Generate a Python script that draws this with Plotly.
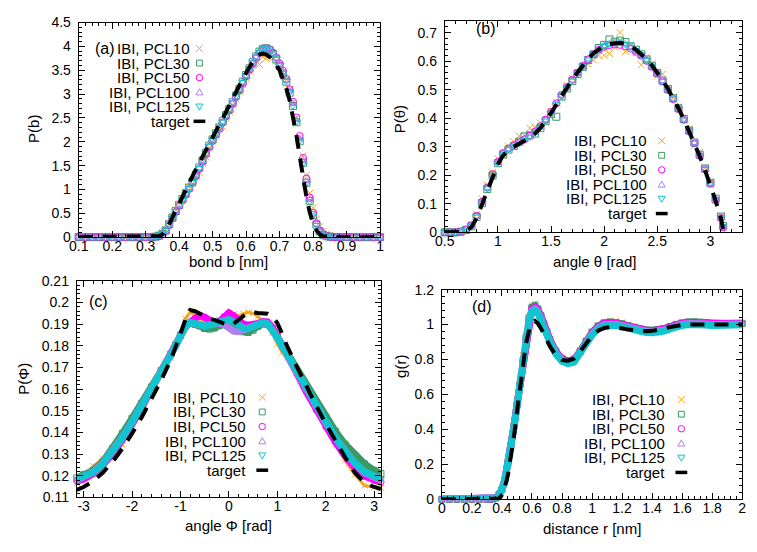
import plotly.graph_objects as go

W, H = 757, 552
FONT = "Liberation Sans, Arial, sans-serif"
FS = 15
TFS = 14

NAMES = ["IBI, PCL10", "IBI, PCL30", "IBI, PCL50", "IBI, PCL100", "IBI, PCL125"]
COLORS = ["#f5a623", "#3a9a66", "#ff00ff", "#b080ec", "#10c4d0"]
SYMBOLS = ["x-thin-open", "square-open", "circle-open", "triangle-up-open", "triangle-down-open"]

# ---------------- panel (a): bond distribution ----------------
XA = [0.10, 0.12, 0.14, 0.16, 0.18, 0.20, 0.22, 0.24, 0.26, 0.28, 0.30, 0.32,
      0.33, 0.34, 0.35, 0.36, 0.37, 0.38, 0.39, 0.40, 0.41, 0.42, 0.43, 0.44, 0.45, 0.46, 0.47, 0.48, 0.49, 0.50,
      0.51, 0.52, 0.53, 0.54, 0.55, 0.56, 0.57, 0.58, 0.59, 0.60, 0.61, 0.62, 0.63, 0.64, 0.65, 0.66, 0.67, 0.68, 0.69, 0.70,
      0.71, 0.72, 0.73, 0.74, 0.75, 0.76, 0.77, 0.78, 0.79, 0.80, 0.81, 0.82, 0.83, 0.84, 0.85, 0.86, 0.87,
      0.88, 0.90, 0.92, 0.94, 0.96, 0.98, 1.00]
A_PCL10 = [0, 0, 0, 0, 0, 0, 0, 0, 0, 0, 0, 0,
           0.01, 0.04, 0.08, 0.16, 0.28, 0.43, 0.57, 0.66, 0.80, 0.94, 1.05, 1.12, 1.27, 1.35, 1.57, 1.68, 1.88, 2.01,
           2.12, 2.31, 2.32, 2.50, 2.63, 2.78, 2.90, 3.06, 3.20, 3.33, 3.48, 3.60, 3.72, 3.62, 3.78, 3.75, 3.82, 3.76, 3.70, 3.58,
           3.45, 3.30, 3.10, 2.82, 2.50, 2.10, 1.70, 1.30, 0.92, 0.62, 0.38, 0.22, 0.12, 0.07, 0.04, 0.02, 0.01,
           0, 0, 0, 0, 0, 0, 0]
A_PCL30 = [0, 0, 0, 0, 0, 0, 0, 0, 0, 0, 0, 0,
           0.01, 0.03, 0.07, 0.14, 0.27, 0.41, 0.55, 0.68, 0.80, 0.92, 1.04, 1.17, 1.31, 1.46, 1.61, 1.77, 1.92, 2.05,
           2.18, 2.30, 2.43, 2.56, 2.69, 2.83, 2.97, 3.11, 3.26, 3.40, 3.54, 3.67, 3.79, 3.89, 3.95, 3.96, 3.92, 3.84, 3.73, 3.59,
           3.43, 3.26, 3.03, 2.75, 2.41, 2.01, 1.56, 1.14, 0.76, 0.46, 0.26, 0.12, 0.05, 0.02, 0.01, 0.00, 0.00,
           0, 0, 0, 0, 0, 0, 0]
A_PCL50 = [0, 0, 0, 0, 0, 0, 0, 0, 0, 0, 0, 0,
           0.01, 0.02, 0.06, 0.13, 0.25, 0.39, 0.53, 0.66, 0.77, 0.89, 1.01, 1.14, 1.28, 1.43, 1.58, 1.74, 1.89, 2.02,
           2.15, 2.27, 2.40, 2.53, 2.66, 2.80, 2.94, 3.08, 3.23, 3.37, 3.51, 3.64, 3.76, 3.86, 3.93, 3.96, 3.94, 3.87, 3.77, 3.64,
           3.49, 3.32, 3.10, 2.84, 2.51, 2.12, 1.66, 1.23, 0.83, 0.51, 0.29, 0.14, 0.06, 0.03, 0.01, 0.00, 0.00,
           0, 0, 0, 0, 0, 0, 0]
A_PCL100 = [0, 0, 0, 0, 0, 0, 0, 0, 0, 0, 0, 0,
            0.01, 0.03, 0.08, 0.15, 0.27, 0.41, 0.55, 0.67, 0.79, 0.91, 1.03, 1.16, 1.30, 1.45, 1.60, 1.75, 1.90, 2.03,
            2.16, 2.28, 2.41, 2.54, 2.67, 2.81, 2.95, 3.09, 3.24, 3.38, 3.52, 3.65, 3.77, 3.87, 3.94, 3.96, 3.92, 3.85, 3.75, 3.62,
            3.46, 3.29, 3.07, 2.80, 2.46, 2.06, 1.60, 1.18, 0.79, 0.48, 0.27, 0.13, 0.06, 0.02, 0.01, 0.00, 0.00,
            0, 0, 0, 0, 0, 0, 0]
A_PCL125 = [0, 0, 0, 0, 0, 0, 0, 0, 0, 0, 0, 0,
            0.01, 0.03, 0.07, 0.14, 0.26, 0.40, 0.54, 0.67, 0.78, 0.90, 1.02, 1.15, 1.29, 1.44, 1.59, 1.76, 1.91, 2.04,
            2.17, 2.29, 2.42, 2.55, 2.68, 2.82, 2.96, 3.10, 3.25, 3.39, 3.53, 3.66, 3.78, 3.88, 3.95, 3.97, 3.93, 3.85, 3.74, 3.60,
            3.44, 3.27, 3.04, 2.76, 2.42, 2.02, 1.55, 1.13, 0.75, 0.45, 0.25, 0.12, 0.05, 0.02, 0.01, 0.00, 0.00,
            0, 0, 0, 0, 0, 0, 0]
A_TARGET = [0, 0, 0, 0, 0, 0, 0, 0, 0, 0, 0, 0,
            0.005, 0.02, 0.06, 0.14, 0.27, 0.42, 0.57, 0.72, 0.86, 1.00, 1.14, 1.28, 1.42, 1.56, 1.70, 1.84, 1.97, 2.10,
            2.23, 2.36, 2.49, 2.62, 2.76, 2.90, 3.04, 3.18, 3.32, 3.45, 3.57, 3.68, 3.77, 3.83, 3.85, 3.83, 3.78, 3.71, 3.62, 3.50,
            3.33, 3.12, 2.87, 2.55, 2.15, 1.70, 1.25, 0.85, 0.52, 0.29, 0.14, 0.06, 0.02, 0.01, 0.00, 0.00, 0.00,
            0, 0, 0, 0, 0, 0, 0]

# ---------------- panel (b): angle distribution ----------------
XB = [0.50, 0.55, 0.60, 0.65, 0.70, 0.75, 0.80, 0.85, 0.90, 0.95,
      1.00, 1.05, 1.10, 1.15, 1.20, 1.25, 1.30, 1.35, 1.40, 1.45,
      1.50, 1.55, 1.60, 1.65, 1.70, 1.75, 1.80, 1.85, 1.90, 1.95,
      2.00, 2.05, 2.10, 2.15, 2.20, 2.25, 2.30, 2.35, 2.40, 2.45,
      2.50, 2.55, 2.60, 2.65, 2.70, 2.75, 2.80, 2.85, 2.90, 2.95,
      3.00, 3.05, 3.10, 3.12]
B_PCL10 = [0.0, 0.0, 0.0, 0.003, 0.010, 0.028, 0.063, 0.118, 0.165, 0.210,
           0.258, 0.268, 0.300, 0.318, 0.337, 0.340, 0.365, 0.370, 0.383, 0.385,
           0.425, 0.455, 0.470, 0.515, 0.540, 0.560, 0.580, 0.590, 0.604, 0.620,
           0.620, 0.627, 0.650, 0.700, 0.633, 0.655, 0.630, 0.587, 0.612, 0.590,
           0.548, 0.555, 0.505, 0.472, 0.440, 0.400, 0.360, 0.305, 0.280, 0.225,
           0.176, 0.112, 0.058, 0.020]
B_PCL30 = [0.0, 0.0, 0.0, 0.002, 0.008, 0.021, 0.054, 0.102, 0.152, 0.199,
           0.242, 0.273, 0.290, 0.302, 0.318, 0.336, 0.340, 0.346, 0.365, 0.391,
           0.414, 0.405, 0.476, 0.504, 0.530, 0.555, 0.580, 0.604, 0.624, 0.646,
           0.657, 0.676, 0.668, 0.672, 0.667, 0.652, 0.640, 0.624, 0.606, 0.584,
           0.559, 0.532, 0.502, 0.470, 0.435, 0.397, 0.357, 0.315, 0.272, 0.224,
           0.174, 0.118, 0.055, 0.022]
B_PCL50 = [0.0, 0.0, 0.0, 0.003, 0.010, 0.025, 0.058, 0.107, 0.157, 0.204,
           0.247, 0.278, 0.294, 0.305, 0.315, 0.326, 0.338, 0.353, 0.372, 0.395,
           0.422, 0.452, 0.482, 0.509, 0.535, 0.560, 0.584, 0.606, 0.625, 0.640,
           0.650, 0.656, 0.658, 0.657, 0.652, 0.644, 0.633, 0.619, 0.601, 0.580,
           0.556, 0.529, 0.499, 0.467, 0.432, 0.394, 0.354, 0.312, 0.268, 0.220,
           0.170, 0.113, 0.050, 0.017]
B_PCL100 = [0.0, 0.0, 0.0, 0.002, 0.009, 0.024, 0.057, 0.106, 0.156, 0.203,
            0.246, 0.276, 0.292, 0.303, 0.313, 0.324, 0.336, 0.351, 0.370, 0.393,
            0.420, 0.450, 0.480, 0.507, 0.533, 0.558, 0.583, 0.607, 0.627, 0.643,
            0.654, 0.661, 0.665, 0.665, 0.660, 0.651, 0.639, 0.623, 0.605, 0.583,
            0.558, 0.531, 0.501, 0.469, 0.434, 0.396, 0.356, 0.314, 0.270, 0.222,
            0.171, 0.114, 0.051, 0.018]
B_PCL125 = [0.0, 0.0, 0.0, 0.002, 0.008, 0.022, 0.055, 0.103, 0.153, 0.200,
            0.243, 0.274, 0.291, 0.301, 0.311, 0.322, 0.334, 0.349, 0.368, 0.391,
            0.418, 0.448, 0.478, 0.505, 0.531, 0.556, 0.581, 0.605, 0.625, 0.641,
            0.652, 0.659, 0.663, 0.664, 0.659, 0.650, 0.638, 0.622, 0.604, 0.582,
            0.557, 0.530, 0.500, 0.468, 0.433, 0.395, 0.355, 0.313, 0.270, 0.222,
            0.172, 0.115, 0.052, 0.020]
B_TARGET = [0.0, 0.0, 0.0, 0.001, 0.005, 0.018, 0.050, 0.098, 0.150, 0.197,
            0.240, 0.270, 0.288, 0.300, 0.310, 0.320, 0.332, 0.347, 0.366, 0.390,
            0.417, 0.447, 0.478, 0.508, 0.535, 0.560, 0.585, 0.608, 0.628, 0.643,
            0.654, 0.660, 0.663, 0.664, 0.660, 0.652, 0.640, 0.625, 0.607, 0.585,
            0.560, 0.533, 0.503, 0.470, 0.435, 0.396, 0.355, 0.312, 0.267, 0.218,
            0.167, 0.110, 0.048, 0.012]

# ---------------- panel (c): dihedral distribution ----------------
XC = [-3.14, -3.0, -2.8, -2.6, -2.4, -2.2, -2.0, -1.8, -1.6, -1.4,
      -1.2, -1.1, -1.0, -0.9, -0.8, -0.7, -0.6, -0.5, -0.4, -0.3,
      -0.2, -0.1, 0.0, 0.1, 0.2, 0.3, 0.4, 0.5, 0.6, 0.7,
      0.8, 0.9, 1.0, 1.1, 1.2, 1.4, 1.6, 1.8, 2.0, 2.2,
      2.4, 2.6, 2.8, 3.0, 3.14]
C_PCL10 = [0.1165, 0.1195, 0.1245, 0.1280, 0.1295, 0.1345, 0.1425, 0.1490, 0.1590, 0.1685,
           0.1745, 0.1795, 0.1855, 0.1925, 0.1955, 0.1940, 0.1925, 0.1915, 0.1910, 0.1912,
           0.1920, 0.1935, 0.1948, 0.1945, 0.1938, 0.1948, 0.1955, 0.1950, 0.1935, 0.1915,
           0.1905, 0.1860, 0.1810, 0.1770, 0.1745, 0.1675, 0.1595, 0.1505, 0.1425, 0.1345,
           0.1270, 0.1205, 0.1155, 0.1148, 0.1145]
C_PCL30 = [0.1190, 0.1205, 0.1225, 0.1265, 0.1325, 0.1395, 0.1465, 0.1535, 0.1610, 0.1685,
           0.1762, 0.1805, 0.1848, 0.1890, 0.1905, 0.1900, 0.1892, 0.1880, 0.1877, 0.1882,
           0.1893, 0.1905, 0.1910, 0.1895, 0.1878, 0.1865, 0.1862, 0.1872, 0.1890, 0.1902,
           0.1900, 0.1878, 0.1842, 0.1802, 0.1765, 0.1688, 0.1612, 0.1540, 0.1470, 0.1405,
           0.1345, 0.1295, 0.1255, 0.1225, 0.1210]
C_PCL50 = [0.1175, 0.1185, 0.1210, 0.1250, 0.1302, 0.1365, 0.1438, 0.1515, 0.1595, 0.1675,
           0.1755, 0.1800, 0.1845, 0.1888, 0.1910, 0.1925, 0.1940, 0.1932, 0.1915, 0.1905,
           0.1912, 0.1935, 0.1952, 0.1938, 0.1915, 0.1900, 0.1895, 0.1897, 0.1903, 0.1912,
           0.1910, 0.1885, 0.1845, 0.1805, 0.1762, 0.1675, 0.1588, 0.1505, 0.1428, 0.1355,
           0.1292, 0.1238, 0.1198, 0.1178, 0.1170]
C_PCL100 = [0.1180, 0.1195, 0.1218, 0.1258, 0.1312, 0.1378, 0.1448, 0.1522, 0.1600, 0.1680,
            0.1760, 0.1802, 0.1846, 0.1888, 0.1906, 0.1902, 0.1895, 0.1892, 0.1898, 0.1905,
            0.1905, 0.1898, 0.1885, 0.1868, 0.1865, 0.1872, 0.1882, 0.1892, 0.1900, 0.1906,
            0.1902, 0.1876, 0.1838, 0.1800, 0.1760, 0.1678, 0.1598, 0.1520, 0.1445, 0.1375,
            0.1312, 0.1258, 0.1215, 0.1190, 0.1180]
C_PCL125 = [0.1185, 0.1195, 0.1215, 0.1255, 0.1310, 0.1375, 0.1445, 0.1520, 0.1598, 0.1678,
            0.1758, 0.1800, 0.1845, 0.1888, 0.1908, 0.1905, 0.1898, 0.1890, 0.1893, 0.1902,
            0.1910, 0.1918, 0.1922, 0.1910, 0.1893, 0.1882, 0.1880, 0.1888, 0.1900, 0.1908,
            0.1902, 0.1875, 0.1838, 0.1800, 0.1760, 0.1680, 0.1600, 0.1520, 0.1445, 0.1375,
            0.1312, 0.1258, 0.1218, 0.1195, 0.1185]
C_TARGET = [0.1135, 0.1148, 0.1175, 0.1215, 0.1265, 0.1325, 0.1395, 0.1470, 0.1555, 0.1640,
            0.1735, 0.1790, 0.1855, 0.1920, 0.1965, 0.1960, 0.1948, 0.1935, 0.1925, 0.1920,
            0.1910, 0.1900, 0.1895, 0.1902, 0.1920, 0.1938, 0.1950, 0.1955, 0.1952, 0.1950,
            0.1948, 0.1935, 0.1905, 0.1855, 0.1800, 0.1705, 0.1610, 0.1525, 0.1440, 0.1358,
            0.1285, 0.1215, 0.1168, 0.1148, 0.1138]
C_TICKS = [-3, -2, -1, 0, 1, 2, 3]
C_TICKTEXT = ["-3", "-2", "-1", "0", "1", "2", "3"]

# ---------------- panel (d): radial distribution ----------------
XD = [0.00, 0.05, 0.10, 0.15, 0.20, 0.25, 0.30,
      0.32, 0.34, 0.36, 0.38, 0.40, 0.42, 0.44, 0.46, 0.48, 0.50,
      0.52, 0.54, 0.56, 0.58, 0.60, 0.62, 0.64, 0.66, 0.68, 0.70,
      0.72, 0.76, 0.80, 0.84, 0.88, 0.92, 0.96, 1.00, 1.04, 1.08,
      1.12, 1.16, 1.20, 1.24, 1.28, 1.32, 1.36, 1.40, 1.44, 1.48,
      1.52, 1.56, 1.60, 1.64, 1.68, 1.72, 1.76, 1.80, 1.84, 1.88,
      1.92, 1.96, 2.00]
D_PCL10 = [0, 0, 0, 0, 0, 0, 0,
           0.0, 0.003, 0.010, 0.030, 0.065, 0.125, 0.215, 0.325, 0.445, 0.575,
           0.700, 0.825, 0.940, 1.045, 1.110, 1.120, 1.095, 1.055, 1.005, 0.960,
           0.918, 0.852, 0.810, 0.800, 0.810, 0.855, 0.910, 0.960, 0.995, 1.015,
           1.022, 1.020, 1.012, 1.002, 0.990, 0.980, 0.972, 0.970, 0.972, 0.980,
           0.992, 1.003, 1.012, 1.017, 1.018, 1.016, 1.012, 1.008, 1.006, 1.005,
           1.005, 1.005, 1.005]
D_PCL30 = [0, 0, 0, 0, 0, 0, 0,
           0.0, 0.002, 0.008, 0.025, 0.056, 0.113, 0.204, 0.306, 0.418, 0.540,
           0.662, 0.792, 0.925, 1.038, 1.098, 1.108, 1.088, 1.050, 1.003, 0.957,
           0.914, 0.846, 0.805, 0.792, 0.800, 0.846, 0.904, 0.956, 0.991, 1.009,
           1.014, 1.011, 1.004, 0.993, 0.983, 0.974, 0.969, 0.967, 0.969, 0.977,
           0.989, 1.001, 1.009, 1.014, 1.016, 1.014, 1.011, 1.008, 1.007, 1.006,
           1.006, 1.007, 1.007]
D_PCL50 = [0, 0, 0, 0, 0, 0, 0,
           0.0, 0.003, 0.009, 0.027, 0.058, 0.115, 0.205, 0.306, 0.418, 0.540,
           0.660, 0.790, 0.920, 1.033, 1.090, 1.098, 1.080, 1.045, 0.998, 0.952,
           0.910, 0.842, 0.802, 0.788, 0.796, 0.842, 0.900, 0.952, 0.988, 1.006,
           1.011, 1.008, 1.001, 0.991, 0.981, 0.972, 0.967, 0.965, 0.967, 0.975,
           0.987, 0.999, 1.007, 1.012, 1.014, 1.012, 1.009, 1.006, 1.005, 1.004,
           1.005, 1.006, 1.006]
D_PCL100 = [0, 0, 0, 0, 0, 0, 0,
            0.0, 0.002, 0.008, 0.026, 0.056, 0.112, 0.202, 0.303, 0.414, 0.535,
            0.655, 0.785, 0.915, 1.027, 1.080, 1.090, 1.073, 1.038, 0.992, 0.946,
            0.904, 0.836, 0.796, 0.782, 0.790, 0.835, 0.893, 0.946, 0.981, 0.999,
            1.004, 1.001, 0.994, 0.984, 0.974, 0.966, 0.961, 0.959, 0.961, 0.969,
            0.981, 0.993, 1.001, 1.006, 1.008, 1.006, 1.003, 1.000, 0.999, 0.999,
            1.000, 1.002, 1.003]
D_PCL125 = [0, 0, 0, 0, 0, 0, 0,
            0.0, 0.002, 0.008, 0.025, 0.055, 0.110, 0.200, 0.300, 0.410, 0.530,
            0.650, 0.780, 0.910, 1.020, 1.072, 1.082, 1.065, 1.030, 0.985, 0.940,
            0.898, 0.830, 0.790, 0.777, 0.785, 0.830, 0.888, 0.940, 0.975, 0.993,
            0.998, 0.995, 0.988, 0.978, 0.968, 0.960, 0.955, 0.953, 0.955, 0.963,
            0.975, 0.987, 0.995, 1.000, 1.002, 1.000, 0.998, 0.995, 0.994, 0.994,
            0.995, 0.997, 0.999]
D_TARGET = [0, 0, 0, 0, 0, 0, 0,
            0.0, 0.0, 0.0, 0.004, 0.025, 0.070, 0.140, 0.235, 0.360, 0.500,
            0.645, 0.780, 0.890, 0.965, 1.010, 1.020, 1.005, 0.978, 0.945, 0.910,
            0.875, 0.822, 0.797, 0.793, 0.805, 0.845, 0.895, 0.937, 0.965, 0.980,
            0.985, 0.983, 0.978, 0.972, 0.967, 0.963, 0.962, 0.964, 0.969, 0.977,
            0.986, 0.993, 0.998, 1.000, 1.000, 0.999, 0.998, 0.997, 0.997, 0.998,
            0.999, 1.000, 1.000]

PANELS = [
    dict(x=XA, ys=[A_PCL10, A_PCL30, A_PCL50, A_PCL100, A_PCL125], target=A_TARGET, band=False),
    dict(x=XB, ys=[B_PCL10, B_PCL30, B_PCL50, B_PCL100, B_PCL125], target=B_TARGET, band=False),
    dict(x=XC, ys=[C_PCL10, C_PCL30, C_PCL50, C_PCL100, C_PCL125], target=C_TARGET, band=True),
    dict(x=XD, ys=[D_PCL10, D_PCL30, D_PCL50, D_PCL100, D_PCL125], target=D_TARGET, band=True),
]
for p in PANELS:
    for y in p["ys"] + [p["target"]]:
        assert len(y) == len(p["x"]), (len(y), len(p["x"]))

fig = go.Figure()
for i, p in enumerate(PANELS):
    ax = "" if i == 0 else str(i + 1)
    for k in range(5):
        if p["band"]:
            lw = 3 if k == 0 else 7
            fig.add_trace(go.Scatter(
                x=p["x"], y=p["ys"][k], mode="lines+markers", name=NAMES[k],
                xaxis="x" + ax, yaxis="y" + ax, showlegend=False, cliponaxis=False,
                line=dict(color=COLORS[k], width=lw),
                marker=dict(symbol=SYMBOLS[k], size=6, color=COLORS[k],
                            line=dict(width=1, color=COLORS[k]))))
        else:
            fig.add_trace(go.Scatter(
                x=p["x"], y=p["ys"][k], mode="markers", name=NAMES[k],
                xaxis="x" + ax, yaxis="y" + ax, showlegend=False, cliponaxis=False,
                marker=dict(symbol=SYMBOLS[k], size=7, color=COLORS[k],
                            line=dict(width=1, color=COLORS[k]))))
    fig.add_trace(go.Scatter(
        x=p["x"], y=p["target"], mode="lines", name="target",
        xaxis="x" + ax, yaxis="y" + ax, showlegend=False, cliponaxis=False,
        line=dict(color="black", width=4, dash="14px,10px")))


def px_x(px):
    return px / W


def px_y(py):
    return 1 - py / H


tickfont = dict(family=FONT, size=TFS, color="black")


def axis(domain, rng, dtick, tick0, anchor, minor_dtick, standoff, vals=None, texts=None):
    d = dict(domain=domain, range=rng, anchor=anchor, showline=True, linecolor="black",
             linewidth=1, mirror="allticks", ticks="inside", ticklen=6, tickwidth=1,
             tickcolor="black", showgrid=False, zeroline=False, tickfont=tickfont,
             ticklabelstandoff=standoff,
             minor=dict(ticks="inside", ticklen=3, tickcolor="black", dtick=minor_dtick, showgrid=False))
    if vals is not None:
        d.update(tickmode="array", tickvals=vals, ticktext=texts)
    else:
        d.update(tick0=tick0, dtick=dtick)
    return d


# pixel boxes of the four plot areas: (left, right, top, bottom)
BOX = [(70, 377, 15, 236), (443, 746, 13, 231), (68, 378, 281, 504), (440, 746, 290, 506)]
dom = [([px_x(l), px_x(r)], [px_y(b), px_y(t)]) for (l, r, t, b) in BOX]
XS, YS = -4, 4

layout = dict(
    width=W, height=H, margin=dict(l=0, r=0, t=0, b=0),
    paper_bgcolor="white", plot_bgcolor="white", showlegend=False,
    font=dict(family=FONT, size=FS, color="black"),
    xaxis=axis(dom[0][0], [0.1, 1.0], 0.1, 0.1, "y", 0.02, XS),
    yaxis=axis(dom[0][1], [0, 4.5], 0.5, 0, "x", 0.1, YS),
    xaxis2=axis(dom[1][0], [0.5, 3.3], 0.5, 0.5, "y2", 0.1, XS),
    yaxis2=axis(dom[1][1], [0, 0.742], 0.1, 0, "x2", 0.02, YS),
    xaxis3=axis(dom[2][0], [-3.1416, 3.1416], 1, 0, "y3", 0.2, XS, C_TICKS, C_TICKTEXT),
    yaxis3=axis(dom[2][1], [0.11, 0.21], 0.01, 0.11, "x3", 0.002, YS),
    xaxis4=axis(dom[3][0], [0, 2], 0.2, 0, "y4", 0.04, XS),
    yaxis4=axis(dom[3][1], [0, 1.2], 0.2, 0, "x4", 0.04, YS),
)
fig.update_layout(**layout)

annotations = []
shapes = []


def add_text(txt, px, py, xanchor="center", size=FS, angle=0):
    annotations.append(dict(text=txt, x=px_x(px), y=px_y(py), xref="paper", yref="paper",
                            xanchor=xanchor, yanchor="middle", showarrow=False, textangle=angle,
                            font=dict(family=FONT, size=size, color="black")))


def glyph(kind, gx, gy, color):
    s = 3.5
    if kind == 0:
        for (a, b, c, d) in [(-s, -s, s, s), (-s, s, s, -s)]:
            shapes.append(dict(type="line", xref="paper", yref="paper",
                               x0=px_x(gx + a), y0=px_y(gy + b), x1=px_x(gx + c), y1=px_y(gy + d),
                               line=dict(color=color, width=1)))
    elif kind == 1:
        shapes.append(dict(type="rect", xref="paper", yref="paper",
                           x0=px_x(gx - 3), y0=px_y(gy + 3), x1=px_x(gx + 3), y1=px_y(gy - 3),
                           line=dict(color=color, width=1)))
    elif kind == 2:
        shapes.append(dict(type="circle", xref="paper", yref="paper",
                           x0=px_x(gx - 3.3), y0=px_y(gy + 3.3), x1=px_x(gx + 3.3), y1=px_y(gy - 3.3),
                           line=dict(color=color, width=1)))
    elif kind in (3, 4):
        sgn = 1 if kind == 3 else -1
        pts = [(gx, gy - sgn * 3.5), (gx + 3.6, gy + sgn * 2.8), (gx - 3.6, gy + sgn * 2.8)]
        path = "M {} {} L {} {} L {} {} Z".format(*[v for pt in pts for v in (px_x(pt[0]), px_y(pt[1]))])
        shapes.append(dict(type="path", xref="paper", yref="paper", path=path,
                           line=dict(color=color, width=1)))


def legend(text_right, gx, y0, dy=15):
    for k in range(5):
        y = y0 + k * dy
        add_text(NAMES[k], text_right, y, xanchor="right")
        glyph(k, gx, y, COLORS[k])
    y = y0 + 5 * dy
    add_text("target", text_right, y, xanchor="right")
    shapes.append(dict(type="line", xref="paper", yref="paper",
                       x0=px_x(gx - 6), y0=px_y(y), x1=px_x(gx + 6), y1=px_y(y),
                       line=dict(color="black", width=3.5)))


legend(185, 193, 41.7)
legend(651, 664, 136.7)
legend(242.5, 257, 401)
legend(669.5, 684, 403.3)

add_text("(a)", 97, 41.7, size=16)
add_text("(b)", 485, 21, size=16)
add_text("(c)", 90, 302, size=16)
add_text("(d)", 481, 307, size=16)

add_text("bond b [nm]", 223, 261)
add_text("angle θ [rad]", 596, 261)
add_text("angle Φ [rad]", 223, 533)
add_text("distance r [nm]", 593, 536)
add_text("P(b)", 24, 125, angle=-90)
add_text("P(θ)", 397, 115, angle=-90)
add_text("P(Φ)", 14, 382, angle=-90)
add_text("g(r)", 398, 369, angle=-90)

fig.update_layout(annotations=annotations, shapes=shapes)
fig.write_html("out.html")
